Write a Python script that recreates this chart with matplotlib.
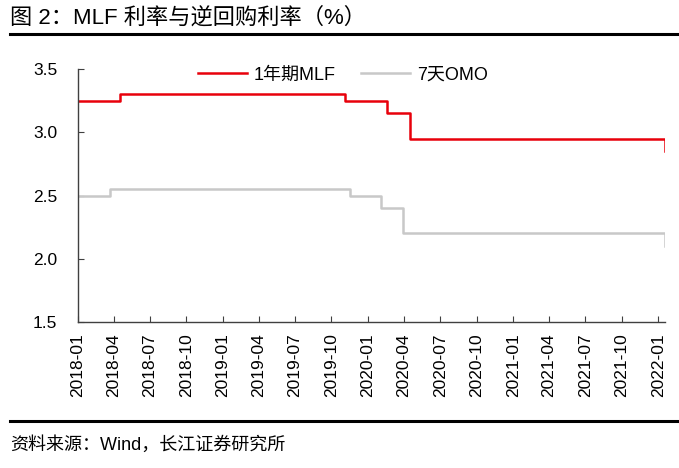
import matplotlib
matplotlib.use("Agg")
import matplotlib.pyplot as plt
import matplotlib.dates as mdates
import pandas as pd

plt.rcParams['font.family'] = ['Liberation Sans', 'Noto Sans CJK SC', 'DejaVu Sans']

title = "图 2：MLF 利率与逆回购利率（%）"
source = "资料来源：Wind，长江证券研究所"

mlf_label = "1年期MLF"
mlf_dates = ['2018-01-01', '2018-04-17', '2019-11-05', '2020-02-17', '2020-04-15', '2022-01-17']
mlf_vals = [3.25, 3.30, 3.25, 3.15, 2.95, 2.85]

omo_label = "7天OMO"
omo_dates = ['2018-01-01', '2018-03-22', '2019-11-18', '2020-02-03', '2020-03-30', '2022-01-17']
omo_vals = [2.50, 2.55, 2.50, 2.40, 2.20, 2.10]

x_start = '2018-01-01'
x_end = '2022-01-18'
y_ticks = [1.5, 2.0, 2.5, 3.0, 3.5]

fig = plt.figure(figsize=(6.79, 4.68), dpi=100)
ax = fig.add_axes([78/679, 1-322/468, (665-78)/679, (322-69)/468])

ax.step(pd.to_datetime(mlf_dates), mlf_vals, where='post', color='#E8000B', lw=1.8, label=mlf_label)
ax.step(pd.to_datetime(omo_dates), omo_vals, where='post', color='#C8C8C8', lw=1.8, label=omo_label)

ax.set_xlim(pd.Timestamp(x_start), pd.Timestamp(x_end))
ax.set_ylim(1.5, 3.5)
ax.set_yticks(y_ticks)
ax.set_yticklabels([f"{v:.1f}" for v in y_ticks])
ax.xaxis.set_major_locator(mdates.MonthLocator(bymonth=[1, 4, 7, 10]))
ax.xaxis.set_major_formatter(mdates.DateFormatter('%Y-%m'))
for lbl in ax.get_xticklabels():
    lbl.set_rotation(90)

for s in ['top', 'right']:
    ax.spines[s].set_visible(False)
for s in ['left', 'bottom']:
    ax.spines[s].set_color('#404040')
    ax.spines[s].set_linewidth(1.0)
ax.tick_params(axis='both', direction='in', length=4, color='#404040', labelsize=12.5, labelcolor='black')
ax.tick_params(axis='x', pad=8)
ax.tick_params(axis='y', pad=15)

leg = fig.legend(loc='center', bbox_to_anchor=(343/679, 1-75/468), bbox_transform=fig.transFigure,
                 ncol=2, frameon=False, fontsize=13, handlelength=2.7, columnspacing=1.4,
                 handletextpad=0.4)

fig.text(10/679, 1-18/468, title, fontsize=16, ha='left', va='center', color='black')
fig.add_artist(plt.Line2D([10/679, 1.0], [1-34/468, 1-34/468], color='black', lw=2.2, transform=fig.transFigure))
fig.add_artist(plt.Line2D([10/679, 1.0], [1-421/468, 1-421/468], color='black', lw=2.2, transform=fig.transFigure))
fig.text(10/679, 1-445/468, source, fontsize=13, ha='left', va='center', color='black')

fig.savefig('out.png', dpi=100)
